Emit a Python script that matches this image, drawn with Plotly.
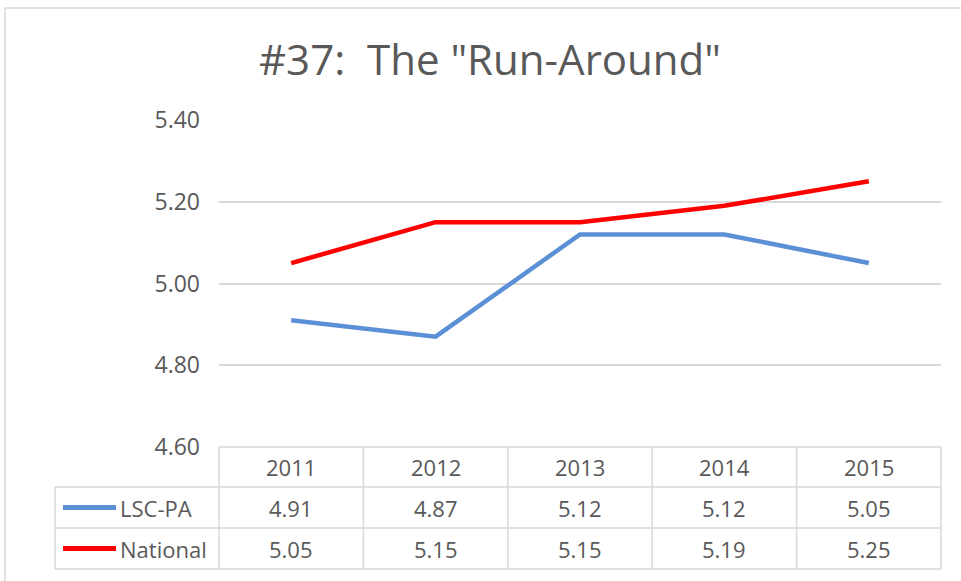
import plotly.graph_objects as go

years = ["2011", "2012", "2013", "2014", "2015"]
series_names = ["LSC-PA", "National"]
lsc_pa = [4.91, 4.87, 5.12, 5.12, 5.05]
national = [5.05, 5.15, 5.15, 5.19, 5.25]
y_ticks = [4.60, 4.80, 5.00, 5.20, 5.40]
title_text = '#37:  The "Run-Around"'

colors = ["#5B8FD6", "#FF0000"]
text_color = "#595959"
grid_color = "#D9D9D9"
FONT = "Open Sans, sans-serif"

W, H = 961, 581
L, R, T, B = 219, 941, 120, 447   # plot area in pixels
pw, ph = R - L, B - T


def px(x):
    return (x - L) / pw


def py(y):
    return (B - y) / ph


fig = go.Figure()
for name, vals, c in zip(series_names, [lsc_pa, national], colors):
    fig.add_trace(go.Scatter(x=years, y=vals, mode="lines", name=name,
                             line=dict(color=c, width=4.5), showlegend=False))

shapes = []
# outer chart border
shapes.append(dict(type="rect", xref="paper", yref="paper",
                   x0=px(5), x1=px(975), y0=py(600), y1=py(8),
                   line=dict(color="#D9D9D9", width=1.5), layer="below"))

# data table grid
row_y = [447, 487, 528, 569]
col_w = pw / len(years)
col_x = [L + i * col_w for i in range(len(years) + 1)]
tbl_left = 55
line_style = dict(color=grid_color, width=1.5)
for i, yy in enumerate(row_y):
    x0 = L if i == 0 else tbl_left
    shapes.append(dict(type="line", xref="paper", yref="paper",
                       x0=px(x0), x1=px(R), y0=py(yy), y1=py(yy), line=line_style))
for xx in col_x:
    shapes.append(dict(type="line", xref="paper", yref="paper",
                       x0=px(xx), x1=px(xx), y0=py(row_y[0]), y1=py(row_y[-1]), line=line_style))
shapes.append(dict(type="line", xref="paper", yref="paper",
                   x0=px(tbl_left), x1=px(tbl_left), y0=py(row_y[1]), y1=py(row_y[-1]), line=line_style))

annotations = []
row_centers = [(row_y[i] + row_y[i + 1]) / 2 for i in range(3)]
for i, yr in enumerate(years):
    annotations.append(dict(x=i, xref="x", y=py(row_centers[0]), yref="paper",
                            text=yr, showarrow=False, xanchor="center", yanchor="middle",
                            font=dict(size=22, color=text_color, family=FONT)))
for r, (name, vals, c) in enumerate(zip(series_names, [lsc_pa, national], colors)):
    yc = row_centers[r + 1]
    for i, v in enumerate(vals):
        annotations.append(dict(x=i, xref="x", y=py(yc), yref="paper",
                                text=f"{v:.2f}", showarrow=False, xanchor="center", yanchor="middle",
                                font=dict(size=22, color=text_color, family=FONT)))
    shapes.append(dict(type="line", xref="paper", yref="paper",
                       x0=px(63), x1=px(116), y0=py(yc), y1=py(yc),
                       line=dict(color=c, width=5)))
    annotations.append(dict(x=px(118), xref="paper", y=py(yc), yref="paper",
                            text=name, showarrow=False, xanchor="left", yanchor="middle",
                            font=dict(size=22, color=text_color, family=FONT)))

fig.update_layout(
    width=W, height=H,
    margin=dict(l=L, r=W - R, t=T, b=H - B),
    paper_bgcolor="white", plot_bgcolor="white",
    title=dict(text=title_text, x=490 / W, xanchor="center", y=1 - 60 / H, yanchor="middle",
               font=dict(size=42, color=text_color, family=FONT)),
    xaxis=dict(type="category", range=[-0.5, 4.5], showticklabels=False, showgrid=False,
               zeroline=False, showline=False, fixedrange=True),
    yaxis=dict(range=[4.6, 5.4], tickvals=y_ticks, ticktext=[f"{v:.2f}" for v in y_ticks],
               showgrid=True, gridcolor=grid_color, gridwidth=1.5, zeroline=False,
               showline=False, ticks="", ticklabelstandoff=18,
               tickfont=dict(size=23, color=text_color, family=FONT)),
    shapes=shapes, annotations=annotations,
)

fig.write_html("out.html", config={"displayModeBar": False},
               post_script="document.body.style.margin='0';document.body.style.overflow='hidden';")
